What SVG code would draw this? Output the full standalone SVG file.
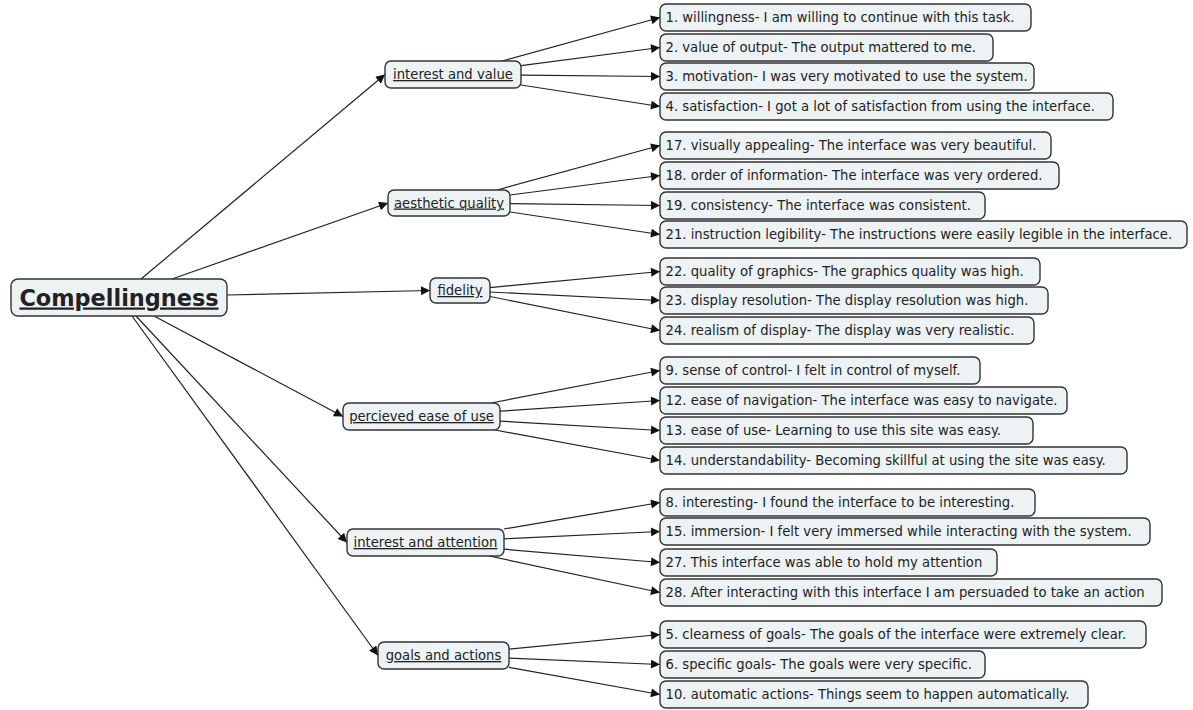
<svg xmlns="http://www.w3.org/2000/svg" width="1193" height="710" viewBox="0 0 1193 710">
<style>
.box{fill:#edf2f4;stroke:#333;stroke-width:1.4}
.t{font-family:"DejaVu Sans",Verdana,sans-serif;font-size:13.2px;fill:#222}
.m{font-family:"DejaVu Sans",Verdana,sans-serif;font-size:13.2px;fill:#222;text-decoration:underline;text-anchor:middle}
.r{font-family:"DejaVu Sans",Verdana,sans-serif;font-size:22.4px;font-weight:bold;fill:#222;text-decoration:underline;text-anchor:middle}
.c line{stroke:#222;stroke-width:1.2;marker-end:url(#ah)}
</style>
<defs>
<marker id="ah" viewBox="0 0 10 10" refX="10" refY="5" markerWidth="12" markerHeight="9" markerUnits="userSpaceOnUse" orient="auto">
<path d="M0,0 L10,5 L0,10 z" fill="#111"/>
</marker>
</defs>
<rect width="1193" height="710" fill="#fff"/>
<g class="c" id="connectors">
<line x1="141" y1="279" x2="385" y2="74.5"/>
<line x1="172" y1="279" x2="388" y2="203"/>
<line x1="227" y1="295" x2="430" y2="290.5"/>
<line x1="154" y1="316" x2="343" y2="416.5"/>
<line x1="136" y1="316" x2="347" y2="542.5"/>
<line x1="132" y1="316" x2="378" y2="655.5"/>
<line x1="502" y1="61" x2="660" y2="17.5"/>
<line x1="521" y1="65.6" x2="660" y2="47.5"/>
<line x1="521" y1="75.2" x2="660" y2="76.5"/>
<line x1="521" y1="85" x2="660" y2="106.5"/>
<line x1="497" y1="190" x2="660" y2="145.5"/>
<line x1="510" y1="195" x2="660" y2="175.5"/>
<line x1="510" y1="203.7" x2="660" y2="205.5"/>
<line x1="510" y1="212" x2="660" y2="234.5"/>
<line x1="490" y1="287.6" x2="660" y2="271.5"/>
<line x1="490" y1="292" x2="660" y2="300.5"/>
<line x1="490" y1="296.5" x2="660" y2="330.5"/>
<line x1="491" y1="403" x2="660" y2="370.5"/>
<line x1="500" y1="411.2" x2="660" y2="400.5"/>
<line x1="500" y1="421.1" x2="660" y2="430.5"/>
<line x1="495" y1="430" x2="660" y2="460.5"/>
<line x1="504" y1="529" x2="660" y2="502.5"/>
<line x1="504" y1="538.8" x2="660" y2="531.5"/>
<line x1="504" y1="549.2" x2="660" y2="562.5"/>
<line x1="489" y1="556" x2="660" y2="592.5"/>
<line x1="509" y1="649.1" x2="660" y2="634.5"/>
<line x1="509" y1="658.2" x2="660" y2="664.5"/>
<line x1="509" y1="667.3" x2="660" y2="694.5"/>
</g>
<g id="root"><rect class="box" x="11" y="279" width="216" height="37" rx="7"/><text class="r" x="119" y="305.5">Compellingness</text></g>
<g id="interest-value"><rect class="box" x="385" y="61" width="136" height="27" rx="6"/><text class="m" x="453" y="79">interest and value</text></g>
<g id="aesthetic"><rect class="box" x="388" y="190" width="122" height="26" rx="6"/><text class="m" x="449" y="207.5">aesthetic quality</text></g>
<g id="fidelity"><rect class="box" x="430" y="278" width="60" height="25" rx="6"/><text class="m" x="460" y="295">fidelity</text></g>
<g id="ease"><rect class="box" x="343" y="403" width="157" height="27" rx="6"/><text class="m" x="421.5" y="421">percieved ease of use</text></g>
<g id="attention"><rect class="box" x="347" y="529" width="157" height="27" rx="6"/><text class="m" x="425.5" y="547">interest and attention</text></g>
<g id="goals"><rect class="box" x="378" y="642" width="131" height="27" rx="6"/><text class="m" x="443.5" y="660">goals and actions</text></g>
<g id="l1"><rect class="box" x="660" y="4" width="371" height="27" rx="6"/><text class="t" x="665.5" y="22">1. willingness- I am willing to continue with this task.</text></g>
<g id="l2"><rect class="box" x="660" y="34" width="333" height="27" rx="6"/><text class="t" x="665.5" y="52">2. value of output- The output mattered to me.</text></g>
<g id="l3"><rect class="box" x="660" y="63" width="374" height="27" rx="6"/><text class="t" x="665.5" y="81">3. motivation- I was very motivated to use the system.</text></g>
<g id="l4"><rect class="box" x="660" y="93" width="453" height="27" rx="6"/><text class="t" x="665.5" y="111">4. satisfaction- I got a lot of satisfaction from using the interface.</text></g>
<g id="l17"><rect class="box" x="660" y="132" width="391" height="27" rx="6"/><text class="t" x="665.5" y="150">17. visually appealing- The interface was very beautiful.</text></g>
<g id="l18"><rect class="box" x="660" y="162" width="399" height="27" rx="6"/><text class="t" x="665.5" y="180">18. order of information- The interface was very ordered.</text></g>
<g id="l19"><rect class="box" x="660" y="192" width="325" height="27" rx="6"/><text class="t" x="665.5" y="210">19. consistency- The interface was consistent.</text></g>
<g id="l21"><rect class="box" x="660" y="221" width="527" height="27" rx="6"/><text class="t" x="665.5" y="239">21. instruction legibility- The instructions were easily legible in the interface.</text></g>
<g id="l22"><rect class="box" x="660" y="258" width="380" height="27" rx="6"/><text class="t" x="665.5" y="276">22. quality of graphics- The graphics quality was high.</text></g>
<g id="l23"><rect class="box" x="660" y="287" width="388" height="27" rx="6"/><text class="t" x="665.5" y="305">23. display resolution- The display resolution was high.</text></g>
<g id="l24"><rect class="box" x="660" y="317" width="374" height="27" rx="6"/><text class="t" x="665.5" y="335">24. realism of display- The display was very realistic.</text></g>
<g id="l9"><rect class="box" x="660" y="357" width="320" height="27" rx="6"/><text class="t" x="665.5" y="375">9. sense of control- I felt in control of myself.</text></g>
<g id="l12"><rect class="box" x="660" y="387" width="407" height="27" rx="6"/><text class="t" x="665.5" y="405">12. ease of navigation- The interface was easy to navigate.</text></g>
<g id="l13"><rect class="box" x="660" y="417" width="373" height="27" rx="6"/><text class="t" x="665.5" y="435">13. ease of use- Learning to use this site was easy.</text></g>
<g id="l14"><rect class="box" x="660" y="447" width="467" height="27" rx="6"/><text class="t" x="665.5" y="465">14. understandability- Becoming skillful at using the site was easy.</text></g>
<g id="l8"><rect class="box" x="660" y="489" width="375" height="27" rx="6"/><text class="t" x="665.5" y="507">8. interesting- I found the interface to be interesting.</text></g>
<g id="l15"><rect class="box" x="660" y="518" width="490" height="27" rx="6"/><text class="t" x="665.5" y="536">15. immersion- I felt very immersed while interacting with the system.</text></g>
<g id="l27"><rect class="box" x="660" y="549" width="337" height="27" rx="6"/><text class="t" x="665.5" y="567">27. This interface was able to hold my attention</text></g>
<g id="l28"><rect class="box" x="660" y="579" width="502" height="27" rx="6"/><text class="t" x="665.5" y="597">28. After interacting with this interface I am persuaded to take an action</text></g>
<g id="l5"><rect class="box" x="660" y="621" width="486" height="27" rx="6"/><text class="t" x="665.5" y="639">5. clearness of goals- The goals of the interface were extremely clear.</text></g>
<g id="l6"><rect class="box" x="660" y="651" width="325" height="27" rx="6"/><text class="t" x="665.5" y="669">6. specific goals- The goals were very specific.</text></g>
<g id="l10"><rect class="box" x="660" y="681" width="428" height="27" rx="6"/><text class="t" x="665.5" y="699">10. automatic actions- Things seem to happen automatically.</text></g>
</svg>
